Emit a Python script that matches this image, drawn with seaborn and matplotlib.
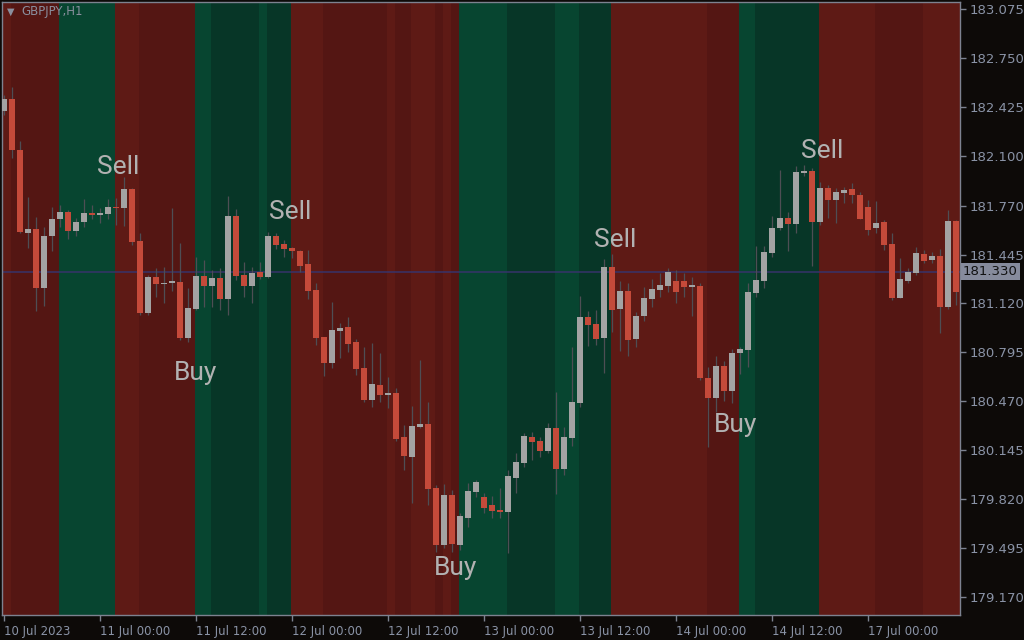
import numpy as np
import pandas as pd
import matplotlib
matplotlib.use("Agg")
import matplotlib.pyplot as plt
import seaborn as sns

# GBPJPY H1 candles, 10 Jul 12:00 -> 17 Jul 11:00
opens = [
    182.400, 182.478, 182.139, 181.590, 181.614, 181.224, 181.568, 181.681, 181.727, 181.603,
    181.661, 181.720, 181.707, 181.714, 181.762, 181.756, 181.880, 181.535, 181.058, 181.295,
    181.251, 181.258, 181.262, 180.890, 181.083, 181.302, 181.238, 181.289, 181.149, 181.701,
    181.309, 181.238, 181.329, 181.297, 181.568, 181.515, 181.488, 181.468, 181.382, 181.209,
    180.899, 180.726, 180.939, 180.963, 180.864, 180.691, 180.479, 180.578, 180.514, 180.525,
    180.233, 180.100, 180.301, 180.319, 179.894, 179.516, 179.848, 179.516, 179.697, 179.870,
    179.834, 179.781, 179.748, 179.737, 179.963, 180.062, 180.233, 180.206, 180.142, 180.293,
    180.022, 180.228, 180.461, 181.030, 180.983, 180.892, 181.362, 181.085, 181.203, 180.886,
    181.038, 181.151, 181.211, 181.238, 181.269, 181.269, 181.231, 181.235, 180.627, 180.494,
    180.704, 180.541, 180.791, 180.813, 181.191, 181.271, 181.457, 181.623, 181.687, 181.649,
    181.986, 181.999, 181.663, 181.886, 181.809, 181.855, 181.880, 181.840, 181.760, 181.623,
    181.661, 181.515, 181.158, 181.271, 181.324, 181.448, 181.410, 181.435, 181.098, 181.667,
]
highs = [
    182.504, 182.557, 182.199, 181.829, 181.696, 181.629, 181.762, 181.774, 181.740, 181.687,
    181.813, 181.774, 181.754, 181.813, 181.820, 181.962, 181.886, 181.588, 181.309, 181.355,
    181.364, 181.754, 181.521, 181.222, 181.430, 181.408, 181.342, 181.353, 181.833, 181.747,
    181.397, 181.364, 181.397, 181.596, 181.588, 181.541, 181.497, 181.475, 181.475, 181.255,
    180.899, 181.131, 180.990, 181.030, 180.886, 180.831, 180.857, 180.791, 180.633, 180.558,
    180.313, 180.439, 180.744, 180.467, 179.914, 179.921, 179.881, 179.728, 179.927, 179.947,
    179.861, 179.841, 179.894, 180.014, 180.127, 180.260, 180.268, 180.235, 180.328, 180.532,
    180.301, 180.833, 181.169, 181.072, 181.076, 181.415, 181.448, 181.271, 181.258, 181.065,
    181.231, 181.280, 181.320, 181.353, 181.342, 181.320, 181.297, 181.254, 180.700, 180.773,
    180.740, 180.815, 180.833, 181.254, 181.503, 181.501, 181.701, 182.006, 181.729, 182.033,
    182.040, 182.019, 181.928, 181.906, 181.884, 181.895, 181.918, 181.862, 181.807, 181.802,
    181.674, 181.588, 181.424, 181.353, 181.497, 181.475, 181.463, 181.481, 181.740, 181.676,
]
lows = [
    182.371, 182.088, 181.590, 181.488, 181.072, 181.103, 181.470, 181.629, 181.550, 181.568,
    181.629, 181.681, 181.654, 181.681, 181.641, 181.634, 181.510, 181.043, 181.043, 181.165,
    181.125, 181.204, 180.877, 180.864, 181.076, 181.098, 181.098, 181.076, 181.043, 181.276,
    181.165, 181.125, 181.280, 181.290, 181.479, 181.430, 181.422, 181.331, 181.149, 180.844,
    180.638, 180.693, 180.758, 180.799, 180.645, 180.465, 180.434, 180.467, 180.426, 180.206,
    180.014, 179.795, 180.293, 179.781, 179.471, 179.496, 179.471, 179.483, 179.637, 179.834,
    179.728, 179.697, 179.695, 179.465, 179.864, 180.036, 180.080, 180.098, 180.124, 179.854,
    179.981, 180.173, 180.434, 180.837, 180.844, 180.658, 180.932, 180.806, 180.773, 180.833,
    181.005, 181.098, 181.165, 181.198, 181.125, 181.165, 181.038, 180.611, 180.168, 180.401,
    180.474, 180.457, 180.651, 180.700, 181.165, 181.220, 181.430, 181.608, 181.470, 181.586,
    181.965, 181.370, 181.641, 181.685, 181.652, 181.785, 181.785, 181.681, 181.574, 181.586,
    181.475, 181.145, 181.158, 181.254, 181.309, 181.386, 181.386, 180.923, 181.083, 181.110,
]
closes = [
    182.478, 182.139, 181.596, 181.614, 181.224, 181.568, 181.681, 181.727, 181.603, 181.661,
    181.720, 181.707, 181.720, 181.762, 181.754, 181.880, 181.528, 181.058, 181.295, 181.251,
    181.258, 181.262, 180.890, 181.090, 181.302, 181.238, 181.289, 181.149, 181.701, 181.304,
    181.238, 181.322, 181.297, 181.568, 181.510, 181.479, 181.468, 181.369, 181.204, 180.890,
    180.726, 180.943, 180.957, 180.851, 180.686, 180.479, 180.585, 180.514, 180.525, 180.220,
    180.109, 180.306, 180.319, 179.888, 179.516, 179.848, 179.522, 179.708, 179.874, 179.934,
    179.763, 179.743, 179.735, 179.974, 180.067, 180.240, 180.202, 180.142, 180.293, 180.022,
    180.233, 180.465, 181.030, 180.979, 180.886, 181.362, 181.078, 181.203, 180.879, 181.038,
    181.156, 181.216, 181.242, 181.329, 181.198, 181.231, 181.242, 180.627, 180.494, 180.704,
    180.541, 180.791, 180.817, 181.196, 181.276, 181.462, 181.621, 181.687, 181.649, 181.993,
    181.999, 181.663, 181.886, 181.809, 181.860, 181.873, 181.842, 181.681, 181.610, 181.654,
    181.510, 181.158, 181.282, 181.329, 181.455, 181.404, 181.435, 181.098, 181.667, 181.198,
]

# indicator background: bar where each state starts, and the state
band_start = [0, 1, 7, 14, 17, 24, 26, 32, 33, 36, 40, 48, 49, 51, 54, 55, 56, 57,
              63, 69, 72, 76, 88, 92, 94, 102, 109, 115]
band_kind = ["R1", "R2", "G1", "R1", "R2", "G1", "G2", "G1", "G2", "R1", "R2", "R1", "R2",
             "R1", "R2", "R1", "R2", "G1", "G2", "G1", "G2", "R1", "R2", "G1", "G2", "R1",
             "R2", "R1"]

# signal labels: bar position, price, text
sig_bar = [14.25, 24.0, 35.75, 56.4, 76.4, 91.5, 102.25]
sig_price = [182.026, 180.655, 181.727, 179.360, 181.541, 180.310, 182.132]
sig_text = ["Sell", "Buy", "Sell", "Buy", "Sell", "Buy", "Sell"]

# axis labels
xtick_bars = [0, 12, 24, 36, 48, 60, 72, 84, 96, 108]
xtick_labels = ["10 Jul 2023", "11 Jul 00:00", "11 Jul 12:00", "12 Jul 00:00", "12 Jul 12:00",
                "13 Jul 00:00", "13 Jul 12:00", "14 Jul 00:00", "14 Jul 12:00", "17 Jul 00:00"]
ytick_values = [183.075, 182.750, 182.425, 182.100, 181.770, 181.445, 181.120,
                180.795, 180.470, 180.145, 179.820, 179.495, 179.170]
bid_price = 181.330

df = pd.DataFrame({"open": opens, "high": highs, "low": lows, "close": closes})
df["bar"] = np.arange(len(df))
df["up"] = df["close"] >= df["open"]
df["body_low"] = df[["open", "close"]].min(axis=1)
df["body_h"] = (df["close"] - df["open"]).abs().clip(lower=0.008)

bg = "#0d0a08"
axis_col = "#8a93a6"
sns.set_theme(style="dark", rc={
    "figure.facecolor": bg, "axes.facecolor": bg, "axes.edgecolor": "#7d8290",
    "axes.linewidth": 1.0, "xtick.color": axis_col, "ytick.color": axis_col,
    "text.color": axis_col, "axes.grid": False,
})
plt.rcParams["font.family"] = ["DejaVu Sans"]

band_colors = {"R1": "#5e1a15", "R2": "#541613", "G1": "#074530", "G2": "#073627"}

fig = plt.figure(figsize=(10.24, 6.4), dpi=100)
ax = fig.add_axes([2 / 1024, 25 / 640, 958 / 1024, 613 / 640])

ends = band_start[1:] + [len(df) + 1]
for s, e, k in zip(band_start, ends, band_kind):
    left = s - 0.125 if s > 0 else -1
    ax.axvspan(left, e - 0.125, color=band_colors[k], lw=0, zorder=0)

ax.axhline(bid_price, color="#37336a", lw=1.1, zorder=1)

ax.vlines(df["bar"], df["low"], df["high"], color="#4e4e54", lw=0.9, zorder=2)
body_cols = np.where(df["up"], "#a3a3a3", "#c44a3a")
ax.bar(df["bar"], df["body_h"], bottom=df["body_low"], width=0.85,
       color=body_cols, linewidth=0, zorder=3)

for b, p, t in zip(sig_bar, sig_price, sig_text):
    ax.text(b, p, t, ha="center", va="center", fontsize=19, color="#b2b2b2",
            family=["Roboto", "DejaVu Sans"], zorder=4)

ax.set_xlim(-0.25, 119.5)
ax.set_ylim(179.051, 183.122)

ax.set_xticks(xtick_bars)
ax.set_xticklabels(xtick_labels, ha="left", fontsize=8.5)
ax.yaxis.tick_right()
ax.set_yticks(ytick_values)
ax.set_yticklabels([f"{v:.3f}" for v in ytick_values], fontsize=9.5)
ax.tick_params(axis="both", length=4, width=1, color="#7d8290", direction="out",
               bottom=True, right=True, left=False, top=False)
ax.tick_params(axis="x", pad=3)
ax.tick_params(axis="y", pad=3)

# bid price box on the price scale
ax.text(1.003, bid_price, f"{bid_price:.3f}", transform=ax.get_yaxis_transform(),
        ha="left", va="center", fontsize=9.5, color="#111111",
        bbox=dict(boxstyle="square,pad=0.15", facecolor="#868b9c", edgecolor="none"),
        zorder=5, clip_on=False)

fig.text(7 / 1024, 1 - 12 / 640, "\u25bc", fontsize=7, color="#8a8f9e", va="center")
fig.text(21 / 1024, 1 - 12 / 640, "GBPJPY,H1", fontsize=8.5, color="#8a8f9e", va="center")

fig.savefig("out.png", dpi=100, facecolor=bg)
